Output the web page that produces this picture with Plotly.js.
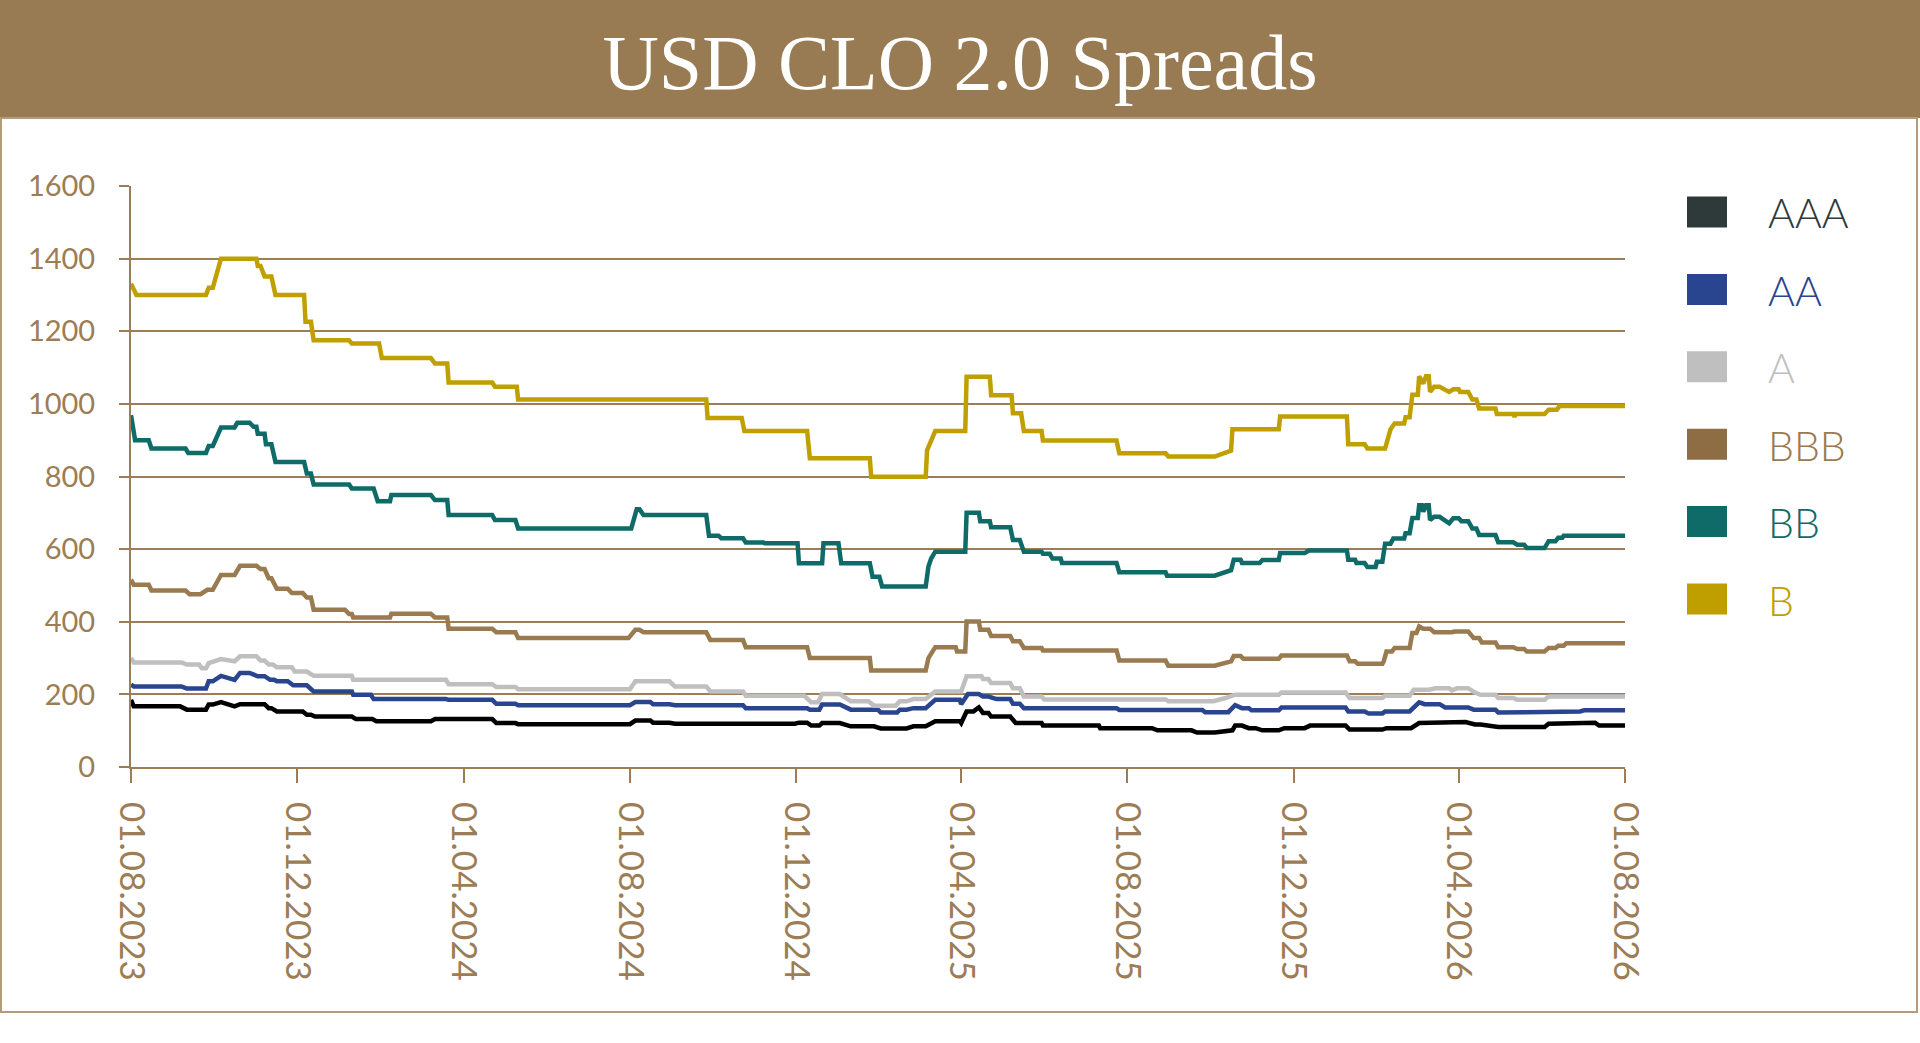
<!DOCTYPE html>
<html>
<head>
<meta charset="utf-8">
<script src="https://cdn.plot.ly/plotly-3.0.1.min.js"></script>
<style>
html,body{margin:0;padding:0;background:#ffffff;}
#chart{width:1920px;height:1043px;}
</style>
</head>
<body>
<div id="chart"></div>
<script>
// ---------- DATA ----------
const seriesNames = ["AAA", "AA", "A", "BBB", "BB", "B"];

const aaaDates = ["2023-08-01","2023-08-03","2023-09-06","2023-09-11","2023-09-25","2023-09-27","2023-09-30","2023-10-06","2023-10-16","2023-10-20","2023-11-07","2023-11-10","2023-11-12","2023-11-16","2023-12-05","2023-12-08","2023-12-11","2023-12-14","2024-01-10","2024-01-13","2024-01-25","2024-01-28","2024-03-08","2024-03-11","2024-04-22","2024-04-25","2024-05-09","2024-05-11","2024-08-01","2024-08-05","2024-08-16","2024-08-18","2024-08-30","2024-09-03","2024-11-30","2024-12-03","2024-12-09","2024-12-12","2024-12-18","2024-12-20","2025-01-02","2025-01-10","2025-01-27","2025-02-01","2025-02-20","2025-02-25","2025-03-06","2025-03-13","2025-03-31","2025-04-01","2025-04-05","2025-04-10","2025-04-14","2025-04-17","2025-04-21","2025-04-23","2025-05-07","2025-05-11","2025-05-30","2025-05-31","2025-07-11","2025-07-12","2025-08-19","2025-08-23","2025-09-17","2025-09-21","2025-10-04","2025-10-17","2025-10-19","2025-10-24","2025-10-29","2025-11-03","2025-11-08","2025-11-20","2025-11-24","2025-12-09","2025-12-13","2026-01-08","2026-01-11","2026-02-04","2026-02-07","2026-02-25","2026-03-03","2026-03-15","2026-03-20","2026-04-06","2026-04-13","2026-04-17","2026-04-30","2026-06-03","2026-06-06","2026-06-28","2026-07-02","2026-07-10","2026-07-13","2026-08-01"];
const aaaValues = [185,167,167,158,158,172,172,179,167,173,173,162,162,153,153,144,144,139,139,132,132,126,126,132,132,121,121,118,118,128,128,122,122,119,119,122,122,114,114,121,121,112,112,106,106,112,112,126,126,121,153,153,164,149,149,139,139,121,121,114,114,107,107,101,101,95,95,101,114,114,107,107,101,101,107,107,114,114,103,103,107,107,121,121,124,124,117,117,110,110,119,119,122,122,114,114];

const aaDates = ["2023-08-01","2023-08-03","2023-09-07","2023-09-11","2023-09-25","2023-09-27","2023-09-30","2023-10-06","2023-10-16","2023-10-20","2023-10-27","2023-11-02","2023-11-07","2023-11-11","2023-11-14","2023-11-16","2023-11-24","2023-11-28","2023-12-08","2023-12-13","2024-01-10","2024-01-11","2024-01-24","2024-01-26","2024-03-19","2024-03-21","2024-04-22","2024-04-25","2024-05-09","2024-05-11","2024-08-01","2024-08-05","2024-08-16","2024-08-18","2024-08-30","2024-09-03","2024-10-23","2024-10-25","2024-12-09","2024-12-11","2024-12-18","2024-12-20","2025-01-02","2025-01-10","2025-01-30","2025-02-01","2025-02-13","2025-02-15","2025-02-20","2025-02-25","2025-03-06","2025-03-13","2025-03-31","2025-04-01","2025-04-06","2025-04-14","2025-04-17","2025-04-21","2025-04-27","2025-05-07","2025-05-09","2025-05-14","2025-05-17","2025-07-24","2025-07-26","2025-09-25","2025-09-27","2025-10-14","2025-10-19","2025-10-24","2025-10-29","2025-10-31","2025-11-20","2025-11-22","2026-01-08","2026-01-10","2026-01-22","2026-01-25","2026-02-04","2026-02-06","2026-02-24","2026-02-28","2026-03-03","2026-03-07","2026-03-18","2026-03-22","2026-04-08","2026-04-12","2026-04-28","2026-04-30","2026-06-03","2026-06-06","2026-06-29","2026-07-02","2026-08-01"];
const aaValues = [227,222,222,216,216,236,236,251,240,259,259,250,250,240,240,236,236,225,225,208,208,199,199,187,187,185,185,174,174,170,170,179,179,173,173,170,170,162,162,158,158,172,172,158,158,150,150,158,158,162,162,185,185,173,201,201,194,194,187,187,174,174,162,162,157,157,151,151,170,162,162,156,156,164,164,153,153,147,147,153,153,167,178,173,173,164,164,158,158,150,150,153,153,156,156];

const aDates = ["2023-08-01","2023-08-03","2023-09-07","2023-09-11","2023-09-20","2023-09-22","2023-09-25","2023-09-27","2023-10-06","2023-10-16","2023-10-20","2023-11-01","2023-11-04","2023-11-07","2023-11-10","2023-11-13","2023-11-16","2023-11-27","2023-11-29","2023-12-08","2023-12-13","2024-01-10","2024-01-11","2024-03-19","2024-03-21","2024-04-22","2024-04-25","2024-05-09","2024-05-11","2024-08-01","2024-08-05","2024-08-30","2024-09-03","2024-09-26","2024-09-29","2024-10-23","2024-10-25","2024-12-07","2024-12-12","2024-12-17","2024-12-20","2025-01-02","2025-01-10","2025-01-23","2025-01-27","2025-02-12","2025-02-15","2025-02-20","2025-02-25","2025-03-06","2025-03-13","2025-04-01","2025-04-05","2025-04-16","2025-04-17","2025-04-21","2025-04-23","2025-05-07","2025-05-09","2025-05-14","2025-05-17","2025-05-30","2025-06-01","2025-08-29","2025-08-31","2025-10-03","2025-10-12","2025-10-19","2025-11-20","2025-11-22","2026-01-08","2026-01-11","2026-02-04","2026-02-06","2026-02-24","2026-02-27","2026-03-10","2026-03-15","2026-03-25","2026-03-27","2026-03-31","2026-04-08","2026-04-13","2026-04-17","2026-04-28","2026-04-30","2026-05-11","2026-05-14","2026-06-03","2026-06-06","2026-08-01"];
const aValues = [300,288,288,282,282,272,272,286,297,291,305,305,293,293,282,282,275,275,263,263,251,251,240,240,228,228,220,220,214,214,236,236,222,222,208,208,196,196,178,178,201,201,181,181,169,169,181,181,187,187,208,208,250,250,242,242,231,231,217,217,194,194,186,186,181,181,190,199,199,205,205,190,190,196,196,213,213,217,217,211,217,217,205,199,199,190,190,185,185,194,194];

const bbbDates = ["2023-08-01","2023-08-03","2023-08-14","2023-08-16","2023-09-10","2023-09-13","2023-09-21","2023-09-24","2023-09-26","2023-09-30","2023-10-06","2023-10-16","2023-10-20","2023-11-01","2023-11-04","2023-11-07","2023-11-10","2023-11-12","2023-11-16","2023-11-24","2023-11-27","2023-12-05","2023-12-08","2023-12-11","2023-12-13","2024-01-05","2024-01-08","2024-01-10","2024-01-11","2024-02-07","2024-02-08","2024-03-08","2024-03-11","2024-03-20","2024-03-21","2024-04-22","2024-04-25","2024-05-09","2024-05-11","2024-07-31","2024-08-05","2024-08-08","2024-08-11","2024-09-26","2024-09-29","2024-10-23","2024-10-25","2024-12-09","2024-12-11","2025-01-24","2025-01-25","2025-03-06","2025-03-08","2025-03-13","2025-03-28","2025-03-29","2025-04-04","2025-04-05","2025-04-14","2025-04-15","2025-04-21","2025-04-23","2025-05-07","2025-05-09","2025-05-14","2025-05-17","2025-05-30","2025-05-31","2025-07-24","2025-07-26","2025-08-29","2025-08-31","2025-10-04","2025-10-16","2025-10-18","2025-10-23","2025-10-25","2025-11-20","2025-11-22","2026-01-09","2026-01-11","2026-01-15","2026-01-17","2026-02-04","2026-02-05","2026-02-07","2026-02-11","2026-02-13","2026-02-24","2026-02-26","2026-03-01","2026-03-03","2026-03-06","2026-03-11","2026-03-14","2026-03-27","2026-03-29","2026-04-08","2026-04-12","2026-04-16","2026-04-18","2026-04-28","2026-04-30","2026-05-11","2026-05-14","2026-05-19","2026-05-21","2026-06-03","2026-06-06","2026-06-11","2026-06-13","2026-06-17","2026-06-19","2026-08-01"];
const bbbValues = [516,502,502,486,486,476,476,482,488,488,529,529,554,554,545,545,520,520,491,491,479,479,467,467,433,433,421,421,412,412,422,422,412,412,381,381,371,371,355,355,378,378,371,371,350,350,330,330,300,300,266,266,300,330,330,318,318,401,401,378,378,361,361,346,346,328,328,321,321,293,293,279,279,291,306,306,298,298,307,307,291,291,284,284,291,318,318,328,328,369,369,387,381,381,371,371,373,373,355,355,343,343,330,330,325,325,318,318,328,328,334,334,341,341];

const bbDates = ["2023-08-01","2023-08-03","2023-08-04","2023-08-14","2023-08-16","2023-09-10","2023-09-12","2023-09-25","2023-09-27","2023-09-30","2023-10-06","2023-10-16","2023-10-18","2023-10-27","2023-10-30","2023-11-01","2023-11-02","2023-11-07","2023-11-08","2023-11-12","2023-11-15","2023-12-06","2023-12-08","2023-12-11","2023-12-13","2024-01-08","2024-01-10","2024-01-26","2024-01-29","2024-02-07","2024-02-08","2024-03-08","2024-03-11","2024-03-20","2024-03-21","2024-04-22","2024-04-24","2024-05-09","2024-05-11","2024-08-02","2024-08-06","2024-08-08","2024-08-11","2024-09-26","2024-09-28","2024-10-05","2024-10-07","2024-10-23","2024-10-25","2024-11-07","2024-11-08","2024-12-02","2024-12-03","2024-12-20","2024-12-21","2025-01-01","2025-01-03","2025-01-24","2025-01-26","2025-01-31","2025-02-02","2025-03-06","2025-03-08","2025-03-10","2025-03-13","2025-04-04","2025-04-05","2025-04-14","2025-04-15","2025-04-22","2025-04-23","2025-05-07","2025-05-09","2025-05-14","2025-05-17","2025-05-30","2025-05-31","2025-06-05","2025-06-07","2025-06-13","2025-06-14","2025-07-24","2025-07-26","2025-08-29","2025-08-30","2025-10-04","2025-10-16","2025-10-18","2025-10-23","2025-10-24","2025-11-06","2025-11-08","2025-11-20","2025-11-21","2025-12-09","2025-12-12","2026-01-09","2026-01-10","2026-01-15","2026-01-16","2026-01-22","2026-01-24","2026-01-30","2026-01-31","2026-02-04","2026-02-06","2026-02-10","2026-02-12","2026-02-20","2026-02-21","2026-02-24","2026-02-26","2026-03-02","2026-03-03","2026-03-05","2026-03-06","2026-03-08","2026-03-10","2026-03-11","2026-03-14","2026-03-18","2026-03-25","2026-03-28","2026-04-01","2026-04-03","2026-04-08","2026-04-11","2026-04-14","2026-04-16","2026-04-28","2026-04-30","2026-05-11","2026-05-14","2026-05-19","2026-05-21","2026-06-03","2026-06-06","2026-06-11","2026-06-13","2026-06-16","2026-06-17","2026-08-01"];
const bbValues = [969,909,900,900,877,877,865,865,884,884,935,935,948,948,937,937,918,918,889,889,840,840,808,808,778,778,767,767,732,732,749,749,735,735,694,694,680,680,657,657,710,710,694,694,637,637,630,630,618,618,616,616,561,561,616,616,561,561,524,524,497,497,552,574,593,593,700,700,677,677,660,660,625,625,593,593,587,587,574,574,562,562,536,536,527,527,542,571,571,562,562,570,570,589,589,596,596,571,571,562,562,551,551,565,565,615,615,629,629,644,644,686,686,721,721,703,721,721,680,689,689,671,685,685,677,677,657,657,639,639,619,619,612,612,603,603,622,622,631,631,637,637];

const bDates = ["2023-08-01","2023-08-05","2023-09-25","2023-09-27","2023-09-30","2023-10-06","2023-11-01","2023-11-02","2023-11-04","2023-11-07","2023-11-12","2023-11-15","2023-12-06","2023-12-07","2023-12-11","2023-12-13","2024-01-08","2024-01-10","2024-01-30","2024-02-01","2024-03-08","2024-03-11","2024-03-20","2024-03-21","2024-04-22","2024-04-24","2024-05-10","2024-05-11","2024-09-26","2024-09-27","2024-10-22","2024-10-24","2024-12-09","2024-12-11","2025-01-24","2025-01-25","2025-03-06","2025-03-07","2025-03-10","2025-03-13","2025-04-04","2025-04-05","2025-04-22","2025-04-23","2025-05-08","2025-05-09","2025-05-15","2025-05-17","2025-05-30","2025-05-31","2025-07-24","2025-07-26","2025-08-29","2025-08-31","2025-10-04","2025-10-16","2025-10-17","2025-11-20","2025-11-21","2026-01-09","2026-01-10","2026-01-22","2026-01-24","2026-02-06","2026-02-10","2026-02-13","2026-02-20","2026-02-21","2026-02-24","2026-02-26","2026-03-02","2026-03-03","2026-03-06","2026-03-08","2026-03-10","2026-03-11","2026-03-14","2026-03-18","2026-03-25","2026-03-28","2026-04-01","2026-04-02","2026-04-08","2026-04-11","2026-04-14","2026-04-16","2026-04-28","2026-04-29","2026-05-11","2026-05-12","2026-05-13","2026-06-03","2026-06-06","2026-06-12","2026-06-14","2026-08-01"];
const bValues = [1331,1300,1300,1320,1320,1400,1400,1380,1380,1351,1351,1300,1300,1226,1226,1175,1175,1166,1166,1126,1126,1111,1111,1059,1059,1047,1047,1012,1012,961,961,925,925,850,850,799,799,872,899,925,925,1075,1075,1024,1024,974,974,925,925,899,899,864,864,855,855,871,930,930,965,965,889,889,877,877,930,946,946,963,963,1025,1025,1076,1056,1076,1076,1033,1047,1047,1033,1040,1040,1033,1033,1012,1012,987,987,972,972,965,972,972,984,984,994,994];

const xTickValues = ["2023-08-01","2023-12-01","2024-04-01","2024-08-01","2024-12-01","2025-04-01","2025-08-01","2025-12-01","2026-04-01","2026-08-01"];
const xTickLabels = ["01.08.2023","01.12.2023","01.04.2024","01.08.2024","01.12.2024","01.04.2025","01.08.2025","01.12.2025","01.04.2026","01.08.2026"];
const yTickValues = [0, 200, 400, 600, 800, 1000, 1200, 1400, 1600];
const titleText = "USD CLO 2.0 Spreads";

// ---------- STYLE ----------
const lineColors   = ["#000000", "#2a4590", "#bfbfbf", "#9a7a4f", "#0e6b67", "#c0a000"];
const legendColors = ["#2e3a3a", "#2a4590", "#bfbfbf", "#8e6d45", "#0e6b67", "#bf9e00"];
const legendTextColors = ["#2e3a3a", "#2a4590", "#bfbfbf", "#9a7a50", "#0e6b67", "#bf9e00"];
const brown = "#9c7d55";
const headerColor = "#997b53";

const seriesDates  = [aaaDates, aaDates, aDates, bbbDates, bbDates, bDates];
const seriesValues = [aaaValues, aaValues, aValues, bbbValues, bbValues, bValues];

const W = 1920, H = 1043;
const M = {l: 131, r: 295, t: 186, b: 276};
const PW = W - M.l - M.r, PH = H - M.t - M.b;
const px = v => (v - M.l) / PW;
const py = v => (H - M.b - v) / PH;

const traces = seriesNames.map((n, i) => ({
  type: "scatter", mode: "lines", name: n,
  x: seriesDates[i], y: seriesValues[i],
  line: {color: lineColors[i], width: 4.5, shape: "linear"},
  showlegend: false, hoverinfo: "skip"
}));

const shapes = [
  {type: "rect", xref: "paper", yref: "paper", x0: px(-5), x1: px(W + 5), y0: py(118), y1: py(-5),
   fillcolor: headerColor, line: {width: 0}, layer: "below"},
  {type: "rect", xref: "paper", yref: "paper", x0: px(1), x1: px(1917), y0: py(1012), y1: py(118),
   fillcolor: "rgba(0,0,0,0)", line: {color: "#b39c7a", width: 2}, layer: "below"}
];
const annotations = [];
const legTop = 212, legStep = 77.4;
seriesNames.forEach((n, i) => {
  const cy = legTop + i * legStep;
  shapes.push({type: "rect", xref: "paper", yref: "paper",
    x0: px(1687), x1: px(1727), y0: py(cy + 15.5), y1: py(cy - 15.5),
    fillcolor: legendColors[i], line: {width: 0}});
  annotations.push({xref: "paper", yref: "paper", x: px(1766), y: py(cy + 1),
    xanchor: "left", yanchor: "middle", showarrow: false, text: n,
    font: {family: "Lato, 'Open Sans', sans-serif", size: 41, weight: 300, color: legendTextColors[i]}});
});

const layout = {
  width: W, height: H,
  margin: M,
  paper_bgcolor: "#ffffff", plot_bgcolor: "#ffffff",
  title: {text: titleText, x: 0.5, xref: "container", xanchor: "center",
          y: 1 - 62 / H, yref: "container", yanchor: "middle",
          font: {family: "'Liberation Serif', 'DejaVu Serif', serif", size: 78, color: "#ffffff"}},
  showlegend: false,
  hovermode: false,
  xaxis: {
    type: "date", range: ["2023-08-01", "2026-08-01"],
    tickvals: xTickValues, ticktext: xTickLabels, tickangle: 90,
    tickfont: {family: "Lato, 'Open Sans', sans-serif", size: 35, color: brown},
    showline: true, linecolor: brown, linewidth: 2,
    ticks: "outside", ticklen: 14, tickwidth: 2, tickcolor: brown,
    ticklabelstandoff: 12,
    showgrid: false, zeroline: false, fixedrange: true
  },
  yaxis: {
    range: [0, 1600], tickvals: yTickValues,
    tickfont: {family: "Lato, 'Open Sans', sans-serif", size: 29, color: brown},
    showline: true, linecolor: brown, linewidth: 2,
    ticks: "outside", ticklen: 10, tickwidth: 2, tickcolor: brown,
    ticklabelstandoff: 18,
    showgrid: true, gridcolor: brown, gridwidth: 2,
    zeroline: false, fixedrange: true
  },
  shapes: shapes,
  annotations: annotations
};

Plotly.newPlot("chart", traces, layout, {displayModeBar: false, staticPlot: true});
</script>
</body>
</html>
